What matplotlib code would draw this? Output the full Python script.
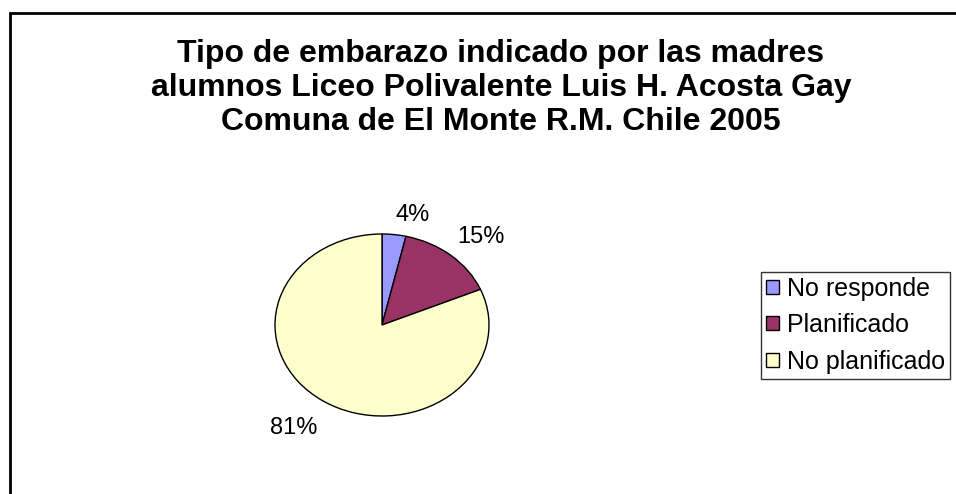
import matplotlib
matplotlib.use("Agg")
import matplotlib.pyplot as plt
from matplotlib.patches import Rectangle

categories = ["No responde", "Planificado", "No planificado"]
values = [3.6, 15.0, 81.4]
colors = ["#9999FF", "#993366", "#FFFFCC"]
title = "Tipo de embarazo indicado por las madres\nalumnos Liceo Polivalente Luis H. Acosta Gay\nComuna de El Monte R.M. Chile 2005"

plt.rcParams['font.family'] = ['Liberation Sans', 'DejaVu Sans']

W, H = 956, 494
fig = plt.figure(figsize=(W / 100, H / 100), dpi=100)
fig.patch.set_facecolor("white")

# outer chart border
fig.patches.append(Rectangle((10 / W, -0.05), 1.0, 1 - 13 / H + 0.05, transform=fig.transFigure,
                             fill=False, edgecolor="black", linewidth=2))

fig.text(501 / W, 1 - 88 / H, title, ha="center", va="center", fontsize=23,
         fontweight="bold", linespacing=1.17)

# pie axes: center (382,325), rx 107, ry 91
cx, cy, rx, ry = 382, 325, 107, 91
lim = 1.6
ax = fig.add_axes([(cx - lim * rx) / W, (H - cy - lim * ry) / H, 2 * lim * rx / W, 2 * lim * ry / H])
wedges, texts, autotexts = ax.pie(values, colors=colors, startangle=90, counterclock=False,
                                  autopct="%.0f%%", pctdistance=1.1, frame=True,
                                  wedgeprops=dict(edgecolor="black", linewidth=1),
                                  textprops=dict(fontsize=17))
for t in autotexts:
    x, y = t.get_position()
    t.set_ha("left" if x > 0 else "right")
    if y > 0:
        t.set_va("bottom")
    else:
        t.set_va("top")
        t.set_position((x, y * 1.1))
ax.set_xlim(-lim, lim)
ax.set_ylim(-lim, lim)
ax.set_aspect("auto")
ax.axis("off")

leg = fig.legend(wedges, categories, loc="center left", bbox_to_anchor=(761 / W, 1 - 325 / H),
                 fontsize=18, frameon=True, fancybox=False, edgecolor="black",
                 handlelength=0.5, handleheight=0.5, handletextpad=0.35, labelspacing=0.5,
                 borderpad=0.2, borderaxespad=0)
leg.get_frame().set_linewidth(1)

fig.savefig("out.png", dpi=100)
